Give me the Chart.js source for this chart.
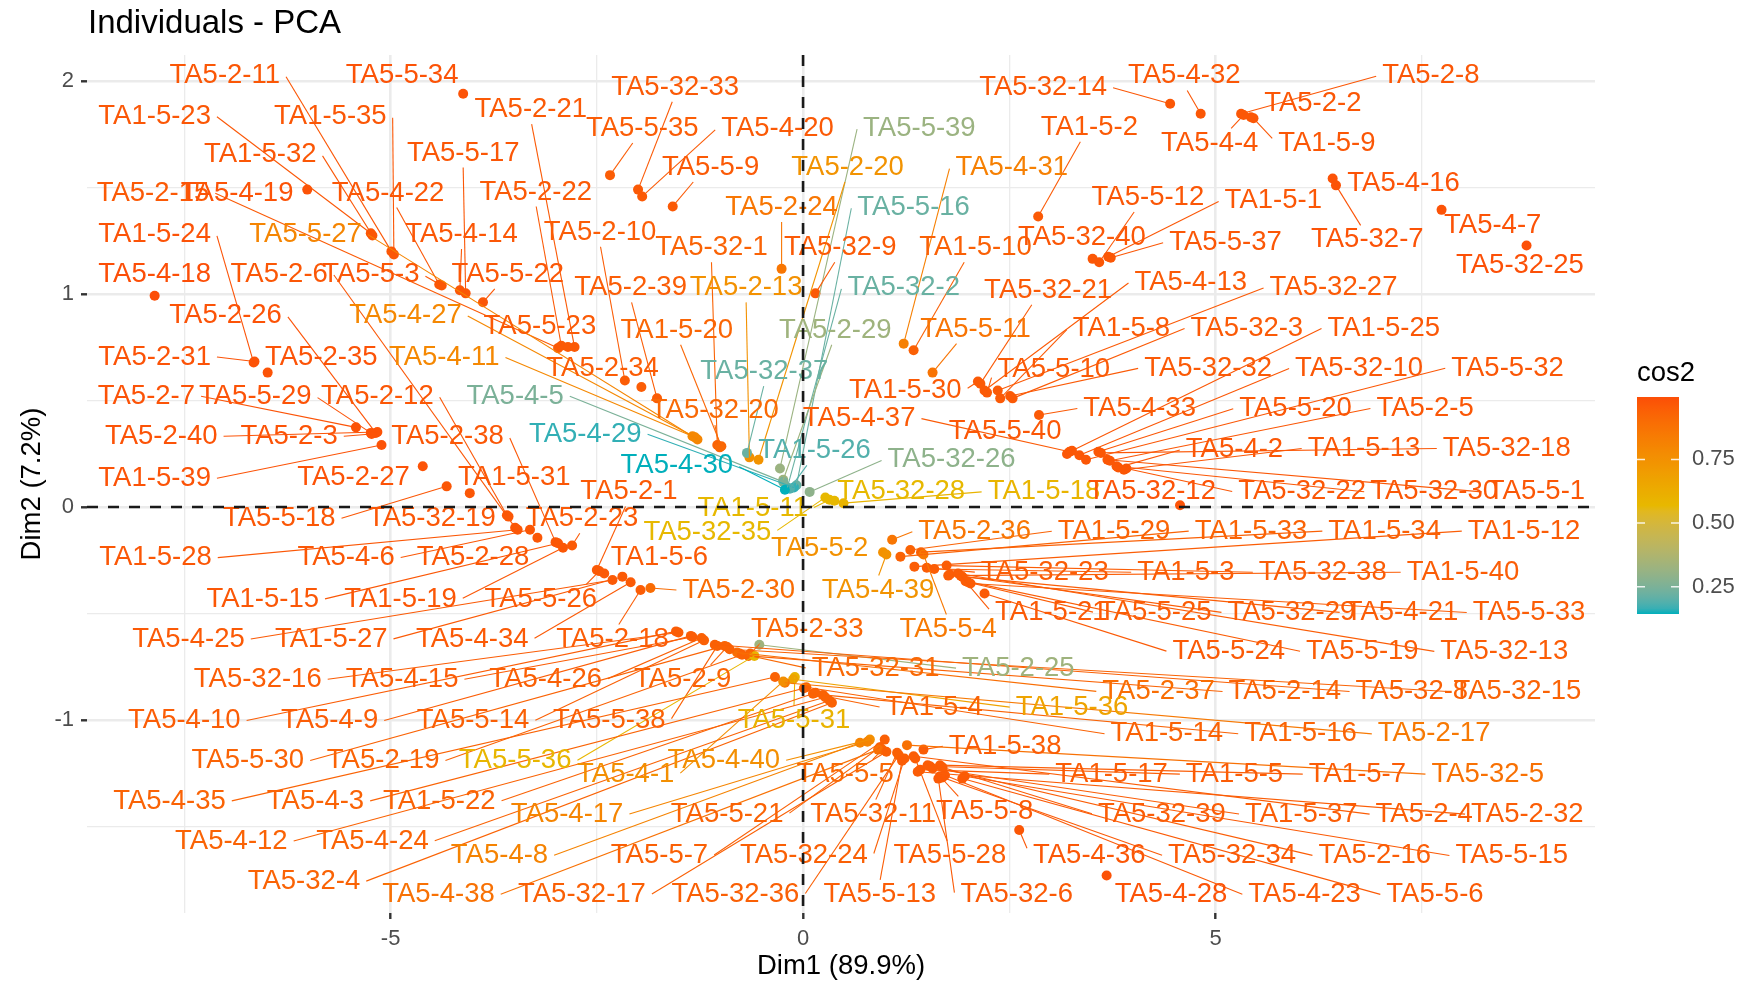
<!DOCTYPE html>
<html>
<head>
<meta charset="utf-8">
<script src="https://cdn.jsdelivr.net/npm/chart.js@4.4.1/dist/chart.umd.min.js"></script>
<style>
  html, body { margin: 0; padding: 0; background: #ffffff; }
  #wrap { width: 1749px; height: 985px; position: relative; }
</style>
</head>
<body>
<div id="wrap"><canvas id="c" width="1749" height="985"></canvas></div>
<script>
// ---------------- DATA ----------------
const names = [
'TA5-2-11','TA5-5-34','TA1-5-23','TA1-5-35','TA5-2-21','TA5-32-33','TA5-5-35','TA5-4-20','TA5-5-39','TA1-5-32',
'TA5-5-17','TA5-5-9','TA5-2-20','TA5-4-31','TA5-2-15','TA5-4-19','TA5-4-22','TA5-2-22','TA5-2-24','TA5-5-16',
'TA1-5-24','TA5-5-27','TA5-4-14','TA5-2-10','TA5-32-1','TA5-32-9','TA1-5-10','TA5-4-18','TA5-2-6','TA5-5-3',
'TA5-5-22','TA5-2-39','TA5-2-13','TA5-32-2','TA5-2-26','TA5-4-27','TA5-5-23','TA1-5-20','TA5-2-29','TA5-5-11',
'TA5-2-31','TA5-2-35','TA5-4-11','TA5-2-34','TA5-32-37','TA5-2-7','TA5-5-29','TA5-2-12','TA5-4-5','TA5-32-20',
'TA5-4-37','TA1-5-30','TA5-2-40','TA5-2-3','TA5-2-38','TA5-4-29','TA1-5-26','TA5-4-30','TA5-32-26','TA1-5-39',
'TA5-2-27','TA1-5-31','TA5-2-1','TA5-32-28','TA1-5-11','TA1-5-18','TA5-32-12','TA5-32-22','TA5-32-30','TA5-5-1',
'TA5-5-18','TA5-32-19','TA5-2-23','TA5-32-35','TA5-2-36','TA1-5-29','TA1-5-33','TA1-5-34','TA1-5-12','TA1-5-28',
'TA5-4-6','TA5-2-28','TA1-5-6','TA5-5-2','TA5-32-23','TA1-5-3','TA5-32-38','TA1-5-40','TA1-5-15','TA1-5-19',
'TA5-5-26','TA5-2-30','TA5-4-39','TA1-5-21','TA5-5-25','TA5-32-29','TA5-4-21','TA5-5-33','TA5-4-25','TA1-5-27',
'TA5-4-34','TA5-2-18','TA5-2-33','TA5-5-4','TA5-5-24','TA5-5-19','TA5-32-13','TA5-32-16','TA5-4-15','TA5-4-26',
'TA5-2-9','TA5-32-31','TA5-2-25','TA5-2-37','TA5-2-14','TA5-32-8','TA5-32-15','TA5-4-10','TA5-4-9','TA5-5-14',
'TA5-5-38','TA5-5-31','TA1-5-4','TA1-5-36','TA1-5-14','TA1-5-16','TA5-2-17','TA5-5-30','TA5-2-19','TA5-5-36',
'TA5-4-1','TA5-4-40','TA1-5-38','TA5-5-5','TA1-5-17','TA1-5-5','TA1-5-7','TA5-32-5','TA5-4-35','TA5-4-3',
'TA1-5-22','TA5-4-17','TA5-5-21','TA5-32-11','TA5-5-8','TA5-32-39','TA1-5-37','TA5-2-4','TA5-2-32','TA5-4-12',
'TA5-4-24','TA5-4-8','TA5-5-7','TA5-32-24','TA5-5-28','TA5-4-36','TA5-32-34','TA5-2-16','TA5-5-15','TA5-32-4',
'TA5-4-38','TA5-32-17','TA5-32-36','TA5-5-13','TA5-32-6','TA5-4-28','TA5-4-23','TA5-5-6','TA5-32-14','TA5-4-32',
'TA5-2-8','TA5-2-2','TA1-5-2','TA5-4-4','TA1-5-9','TA5-4-16','TA5-5-12','TA1-5-1','TA5-32-40','TA5-5-37',
'TA5-32-7','TA5-4-7','TA5-32-25','TA5-32-21','TA5-4-13','TA5-32-27','TA1-5-8','TA5-32-3','TA1-5-25','TA5-5-10',
'TA5-32-32','TA5-32-10','TA5-5-32','TA5-4-33','TA5-5-20','TA5-2-5','TA5-5-40','TA5-4-2','TA1-5-13','TA5-32-18'
];

// individual coordinates (Dim1, Dim2)
const dim1 = [
-4.99,-4.12,-5.24,-4.96,-2.77,-2.00,-2.34,-1.95,-0.28,-5.22,
-4.09,-1.58,-0.54,1.22,-2.97,-6.01,-4.41,-2.93,-0.26,-0.08,
-6.66,-1.28,-4.16,-2.16,-1.04,0.15,1.34,-7.86,-3.49,-4.38,
-3.88,-1.77,-0.65,-0.19,-5.18,-1.31,-2.85,-0.99,-0.24,1.57,
-6.65,-6.49,-1.34,-1.96,-0.68,-5.42,-5.24,-3.59,-0.24,-1.01,
3.23,2.12,-5.16,-5.23,-3.00,-0.11,-0.16,-0.22,0.08,-5.11,
-4.61,-4.04,-2.50,0.38,0.32,0.49,4.57,3.92,3.80,3.69,
-4.32,-3.57,-2.80,0.27,1.08,1.30,1.18,1.43,1.35,-3.46,
-3.31,-3.22,-2.41,0.97,1.50,1.59,1.74,1.76,-2.97,-2.91,
-2.47,-1.85,1.01,1.91,2.00,1.78,1.93,2.03,-2.31,-2.19,
-2.09,-1.97,-0.64,1.46,2.20,1.97,1.88,-1.51,-1.34,-1.23,
-0.92,-0.77,-0.53,-0.80,-0.66,-1.07,-0.89,-1.54,-1.36,-1.20,
-1.04,-0.10,0.12,-0.12,0.04,0.24,-0.22,-0.95,-0.74,-0.59,
-0.24,0.81,1.46,0.96,1.42,1.54,1.66,1.26,-0.34,0.01,
0.15,0.78,0.93,1.14,1.66,1.69,1.57,1.34,1.39,0.27,
0.32,0.69,0.99,1.23,1.36,2.62,1.69,1.51,1.96,0.35,
0.91,1.01,1.16,1.20,1.64,3.68,1.72,1.93,4.45,4.82,
5.31,5.43,2.85,5.34,5.46,6.42,3.59,3.70,3.51,3.73,
6.46,7.74,8.77,2.15,2.20,2.36,2.39,2.54,3.26,2.23,
2.51,3.35,3.43,2.86,3.58,3.72,3.20,3.82,3.89,3.61
];
const dim2 = [
1.200,1.940,1.285,1.186,0.751,1.490,1.558,1.458,0.181,1.275,
1.003,1.411,0.222,0.767,0.746,1.490,1.045,0.757,1.118,0.102,
0.678,0.317,1.018,0.594,0.291,1.003,0.736,0.992,-0.097,1.040,
0.961,0.510,0.233,0.092,0.348,0.327,0.751,0.285,0.128,0.631,
0.683,0.631,0.332,0.563,0.254,0.374,0.348,-0.039,0.118,0.280,
0.259,0.589,0.352,0.343,-0.165,0.092,0.086,0.081,0.071,0.291,
0.191,0.065,-0.296,0.029,0.034,0.018,0.008,0.181,0.191,0.222,
0.097,-0.045,-0.181,0.045,-0.154,-0.202,-0.233,-0.212,-0.280,-0.107,
-0.107,-0.144,-0.312,-0.212,-0.285,-0.291,-0.275,-0.322,-0.170,-0.191,
-0.301,-0.380,-0.223,-0.322,-0.353,-0.317,-0.327,-0.359,-0.343,-0.327,
-0.353,-0.390,-0.688,-0.223,-0.406,-0.348,-0.312,-0.589,-0.610,-0.615,
-0.657,-0.688,-0.647,-0.683,-0.699,-0.647,-0.668,-0.584,-0.605,-0.626,
-0.652,-0.798,-0.877,-0.809,-0.846,-0.882,-0.825,-0.652,-0.694,-0.699,
-0.819,-1.092,-1.139,-1.139,-1.233,-1.217,-1.212,-1.118,-0.798,-0.851,
-0.872,-1.102,-1.128,-1.154,-1.264,-1.222,-1.228,-1.170,-1.243,-0.893,
-0.908,-1.107,-1.092,-1.181,-1.181,-1.516,-1.270,-1.212,-1.264,-0.919,
-1.139,-1.149,-1.165,-1.191,-1.275,-1.730,-1.259,-1.275,1.893,1.846,
1.846,1.830,1.364,1.840,1.825,1.542,1.149,1.175,1.165,1.170,
1.510,1.395,1.228,0.579,0.547,0.547,0.510,0.510,0.264,0.537,
0.521,0.243,0.222,0.432,0.259,0.217,0.249,0.186,0.175,0.254
];

// repelled label anchor (in Dim1 / Dim2 units)
const labelDim1 = [
-7.01,-4.86,-7.86,-5.73,-3.30,-1.55,-1.95,-0.31,1.41,-6.58,
-4.12,-1.12,0.54,2.53,-7.88,-6.86,-5.03,-3.24,-0.26,1.34,
-7.86,-6.03,-4.14,-2.46,-1.11,0.45,2.09,-7.86,-6.35,-5.24,
-3.58,-2.09,-0.69,1.22,-7.00,-4.82,-3.19,-1.53,0.39,2.09,
-7.86,-5.84,-4.35,-2.43,-0.47,-7.96,-6.64,-5.16,-3.49,-1.07,
0.68,1.24,-7.78,-6.23,-4.31,-2.64,0.14,-1.53,1.80,-7.86,
-5.45,-3.50,-2.11,1.19,-0.61,2.92,4.23,6.05,7.65,8.89,
-6.35,-4.50,-2.68,-1.16,2.08,3.77,5.43,7.05,8.74,-7.85,
-5.54,-4.00,-1.74,0.20,2.93,4.64,6.30,8.00,-6.55,-4.88,
-3.18,-0.78,0.91,3.01,4.27,5.92,7.26,8.80,-7.45,-5.72,
-4.01,-2.31,0.05,1.76,5.16,6.78,8.50,-6.61,-4.86,-3.12,
-1.46,0.88,2.61,4.31,5.84,7.38,8.66,-7.50,-5.74,-4.00,
-2.35,-0.11,1.59,3.26,4.41,6.03,7.65,-6.73,-5.09,-3.49,
-2.15,-0.96,2.45,0.51,3.74,5.23,6.72,8.30,-7.68,-5.91,
-4.41,-2.86,-0.92,0.85,2.20,4.35,6.04,7.53,8.78,-6.93,
-5.22,-3.68,-1.74,0.01,1.78,3.47,5.20,6.93,8.59,-6.05,
-4.42,-2.68,-0.82,0.93,2.59,4.46,6.08,7.66,2.91,4.62,
7.61,6.18,3.47,4.93,6.35,7.28,4.18,5.70,3.38,5.12,
6.84,8.36,8.69,2.97,4.70,6.43,3.86,5.38,7.04,3.04,
4.91,6.74,8.54,4.08,5.97,7.54,2.45,5.23,6.80,8.53
];
const labelDim2 = [
2.024,2.024,1.835,1.835,1.866,1.971,1.777,1.777,1.777,1.657,
1.662,1.594,1.594,1.594,1.474,1.474,1.474,1.479,1.406,1.406,
1.280,1.280,1.280,1.290,1.217,1.217,1.217,1.092,1.092,1.092,
1.092,1.029,1.029,1.029,0.898,0.898,0.846,0.830,0.830,0.835,
0.704,0.704,0.704,0.652,0.636,0.521,0.521,0.521,0.521,0.453,
0.416,0.547,0.332,0.332,0.332,0.343,0.264,0.196,0.222,0.134,
0.139,0.139,0.071,0.071,-0.008,0.071,0.071,0.071,0.071,0.071,
-0.055,-0.055,-0.055,-0.118,-0.113,-0.113,-0.113,-0.113,-0.113,-0.238,
-0.238,-0.238,-0.238,-0.196,-0.306,-0.306,-0.306,-0.306,-0.432,-0.432,
-0.432,-0.390,-0.390,-0.495,-0.495,-0.495,-0.495,-0.495,-0.620,-0.620,
-0.620,-0.620,-0.573,-0.573,-0.678,-0.678,-0.678,-0.809,-0.809,-0.809,
-0.809,-0.757,-0.757,-0.866,-0.866,-0.866,-0.866,-1.003,-1.003,-1.003,
-1.003,-1.003,-0.940,-0.940,-1.065,-1.065,-1.065,-1.191,-1.191,-1.191,
-1.254,-1.191,-1.123,-1.254,-1.254,-1.254,-1.254,-1.254,-1.380,-1.380,
-1.380,-1.442,-1.442,-1.442,-1.427,-1.442,-1.442,-1.442,-1.442,-1.568,
-1.568,-1.636,-1.636,-1.636,-1.636,-1.636,-1.636,-1.636,-1.636,-1.757,
-1.819,-1.819,-1.819,-1.819,-1.819,-1.819,-1.819,-1.819,1.971,2.024,
2.024,1.893,1.783,1.709,1.709,1.521,1.453,1.437,1.264,1.243,
1.254,1.322,1.134,1.018,1.055,1.029,0.840,0.840,0.840,0.647,
0.652,0.652,0.652,0.463,0.463,0.463,0.353,0.270,0.275,0.275
];

// quality of representation
const cos2 = [
.97,.98,.97,.97,.96,.96,.95,.96,.32,.97,
.97,.96,.74,.82,.96,.98,.97,.96,.86,.22,
.98,.80,.97,.95,.93,.96,.94,.995,.97,.97,
.97,.95,.75,.22,.98,.79,.96,.92,.33,.87,
.98,.98,.79,.95,.22,.98,.98,.97,.25,.91,
.96,.96,.98,.98,.97,.16,.19,.143,.29,.98,
.98,.97,.96,.57,.57,.59,.98,.97,.97,.97,
.97,.97,.96,.57,.86,.93,.93,.94,.95,.97,
.97,.97,.96,.75,.95,.95,.95,.95,.97,.97,
.96,.90,.74,.96,.95,.95,.95,.95,.96,.96,
.96,.95,.92,.85,.96,.95,.95,.95,.95,.94,
.93,.91,.33,.89,.93,.94,.93,.95,.95,.94,
.94,.60,.93,.67,.93,.93,.85,.93,.93,.58,
.76,.76,.95,.91,.95,.95,.95,.88,.93,.93,
.93,.80,.93,.94,.96,.95,.95,.95,.95,.93,
.93,.81,.94,.94,.95,.97,.96,.95,.96,.93,
.88,.94,.94,.95,.96,.98,.96,.96,.97,.97,
.97,.97,.96,.97,.97,.98,.97,.97,.97,.97,
.98,.98,.99,.96,.96,.96,.96,.96,.97,.96,
.96,.97,.97,.96,.97,.97,.97,.97,.97,.97
];

const xTicks = [-5, 0, 5];
const yTicks = [-1, 0, 1, 2];
const xGridValues = [-7.5, -5, -2.5, 0, 2.5, 5, 7.5];
const yGridValues = [-1.5, -1, -0.5, 0, 0.5, 1, 1.5, 2];
const legendTicks = [0.25, 0.50, 0.75];
const gradientColors = ['#00AFBB', '#E7B800', '#FC4E07'];
const X_MIN = -8.68, X_MAX = 9.60, Y_MIN = -1.906, Y_MAX = 2.122;

// ---------------- COLOUR (Lab interpolation like ggplot) ----------------
const FONT = "'Liberation Sans', Arial, Helvetica, sans-serif";
function hexRgb(h){ return [parseInt(h.slice(1,3),16), parseInt(h.slice(3,5),16), parseInt(h.slice(5,7),16)]; }
function s2l(c){ c/=255; return c<=0.04045 ? c/12.92 : Math.pow((c+0.055)/1.055,2.4); }
function l2s(c){ const v = c<=0.0031308 ? 12.92*c : 1.055*Math.pow(c,1/2.4)-0.055; return Math.round(Math.max(0,Math.min(1,v))*255); }
function rgbLab(rgb){
  const R=s2l(rgb[0]), G=s2l(rgb[1]), B=s2l(rgb[2]);
  const X=(0.4124*R+0.3576*G+0.1805*B)/0.95047, Y=(0.2126*R+0.7152*G+0.0722*B), Z=(0.0193*R+0.1192*G+0.9505*B)/1.08883;
  const f=t=>t>0.008856?Math.cbrt(t):7.787*t+16/116;
  const fx=f(X), fy=f(Y), fz=f(Z);
  return [116*fy-16, 500*(fx-fy), 200*(fy-fz)];
}
function labRgb(lab){
  const fy=(lab[0]+16)/116, fx=fy+lab[1]/500, fz=fy-lab[2]/200;
  const fi=t=>{const t3=t*t*t; return t3>0.008856?t3:(t-16/116)/7.787;};
  const X=fi(fx)*0.95047, Y=fi(fy), Z=fi(fz)*1.08883;
  return [l2s(3.2406*X-1.5372*Y-0.4986*Z), l2s(-0.9689*X+1.8758*Y+0.0415*Z), l2s(0.0557*X-0.2040*Y+1.0570*Z)];
}
const labStops = gradientColors.map(h=>rgbLab(hexRgb(h)));
const C_MIN = Math.min(...cos2), C_MAX = Math.max(...cos2);
function colorFor(v){
  let t=(v-C_MIN)/(C_MAX-C_MIN); t=Math.max(0,Math.min(1,t));
  const n=labStops.length-1; let k=Math.min(n-1,Math.floor(t*n)); const u=t*n-k;
  const a=labStops[k], b=labStops[k+1];
  const c=labRgb([a[0]+(b[0]-a[0])*u, a[1]+(b[1]-a[1])*u, a[2]+(b[2]-a[2])*u]);
  return `rgb(${c[0]},${c[1]},${c[2]})`;
}
const colors = cos2.map(colorFor);

// ---------------- LABEL CONNECTION (ggrepel-like) ----------------
function connect(px, py, b){
  let ox, oy, left=false, right=false, top=false, bottom=false;
  if (px>=b[0] && px<=b[2]) ox=px; else if (px>b[2]) { ox=b[2]; right=true; } else { ox=b[0]; left=true; }
  if (py>=b[1] && py<=b[3]) oy=py; else if (py>b[3]) { oy=b[3]; bottom=true; } else { oy=b[1]; top=true; }
  const mx=(b[0]+b[2])/2, my=(b[1]+b[3])/2;
  const d=Math.hypot(px-ox, py-oy);
  if ((top||bottom) && !(left||right)) {
    const altd=Math.hypot(px-mx, py-oy); if (altd>0) ox += (mx-ox)*d/altd;
  } else if ((left||right) && !(top||bottom)) {
    const altd=Math.hypot(px-ox, py-my); if (altd>0) oy += (my-oy)*d/altd;
  } else if ((left||right) && (top||bottom)) {
    const a1=Math.hypot(px-mx, py-oy), a2=Math.hypot(px-ox, py-my);
    if (a1<a2) ox += (mx-ox)*d/a1; else oy += (my-oy)*d/a2;
  }
  return [ox, oy, d];
}

const LABEL_SIZE = 27.5;

const overlay = {
  id: 'overlay',
  afterDatasetsDraw(chart){
    const {ctx, scales:{x, y}, chartArea:a} = chart;
    ctx.save();
    ctx.font = `${LABEL_SIZE}px ${FONT}`;
    const boxes = names.map((n,i)=>{
      const cx=x.getPixelForValue(labelDim1[i]), cy=y.getPixelForValue(labelDim2[i]);
      const w=ctx.measureText(n).width;
      return [cx-w/2-6, cy-LABEL_SIZE*0.42-3, cx+w/2+6, cy+LABEL_SIZE*0.42+3, cx, cy];
    });
    ctx.lineWidth = 1.1;
    names.forEach((n,i)=>{
      const px=x.getPixelForValue(dim1[i]), py=y.getPixelForValue(dim2[i]);
      const r = connect(px, py, boxes[i]);
      if (r[2] < 1 || Math.hypot(r[0]-px, r[1]-py) < 12) return;
      ctx.strokeStyle = colors[i];
      ctx.beginPath(); ctx.moveTo(px, py); ctx.lineTo(r[0], r[1]); ctx.stroke();
    });
    ctx.textAlign = 'center'; ctx.textBaseline = 'middle';
    names.forEach((n,i)=>{ ctx.fillStyle = colors[i]; ctx.fillText(n, boxes[i][4], boxes[i][5]); });
    // dashed reference axes
    const x0 = x.getPixelForValue(0), y0 = y.getPixelForValue(0);
    ctx.strokeStyle = '#1A1A1A'; ctx.lineWidth = 2.6; ctx.setLineDash([11, 10]);
    ctx.beginPath();
    ctx.moveTo(x0, a.top); ctx.lineTo(x0, a.bottom);
    ctx.moveTo(a.left, y0); ctx.lineTo(a.right, y0);
    ctx.stroke();
    ctx.restore();
  },
  afterDraw(chart){
    const {ctx, chartArea:a} = chart;
    ctx.save();
    ctx.fillStyle = '#000000';
    ctx.font = `33px ${FONT}`;
    ctx.textAlign = 'left'; ctx.textBaseline = 'alphabetic';
    ctx.fillText('Individuals - PCA', 88, 33);
    ctx.font = `27.5px ${FONT}`;
    ctx.textAlign = 'center'; ctx.textBaseline = 'middle';
    ctx.fillText('Dim1 (89.9%)', (a.left + a.right)/2, 966);
    ctx.save();
    ctx.translate(32, (a.top + a.bottom)/2);
    ctx.rotate(-Math.PI/2);
    ctx.fillText('Dim2 (7.2%)', 0, 0);
    ctx.restore();
    // legend
    const bx = 1637, bw = 42, bTop = 397, bBot = 614;
    ctx.textAlign = 'left'; ctx.textBaseline = 'alphabetic';
    ctx.fillText('cos2', bx, 381);
    const g = ctx.createLinearGradient(0, bBot, 0, bTop);
    for (let s = 0; s <= 40; s++) { const v = C_MIN + (C_MAX - C_MIN) * s / 40; g.addColorStop(s/40, colorFor(v)); }
    ctx.fillStyle = g;
    ctx.fillRect(bx, bTop, bw, bBot - bTop);
    ctx.font = `22px ${FONT}`;
    ctx.textBaseline = 'middle';
    legendTicks.forEach(v => {
      const ty = bBot - (v - C_MIN) / (C_MAX - C_MIN) * (bBot - bTop);
      ctx.strokeStyle = 'rgba(255,255,255,0.85)'; ctx.lineWidth = 1.5;
      ctx.beginPath();
      ctx.moveTo(bx, ty); ctx.lineTo(bx + 8, ty);
      ctx.moveTo(bx + bw - 8, ty); ctx.lineTo(bx + bw, ty);
      ctx.stroke();
      ctx.fillStyle = '#4D4D4D';
      ctx.fillText(v.toFixed(2), 1692, ty);
    });
    ctx.restore();
  }
};

function gridCfg(majors){
  return {
    drawTicks: true,
    tickLength: 6,
    color: '#EBEBEB',
    lineWidth: c => majors.includes(c.tick.value) ? 2.6 : 1.3,
    tickColor: c => majors.includes(c.tick.value) ? '#333333' : 'rgba(0,0,0,0)',
    tickWidth: 2.4
  };
}

new Chart(document.getElementById('c'), {
  type: 'scatter',
  data: {
    datasets: [{
      data: dim1.map((v,i)=>({x: v, y: dim2[i]})),
      pointBackgroundColor: colors,
      pointBorderWidth: 0,
      pointRadius: 5,
      pointHoverRadius: 5
    }]
  },
  options: {
    responsive: false,
    animation: false,
    devicePixelRatio: 1,
    events: [],
    layout: { padding: { left: 0, top: 55, right: 154, bottom: 0 } },
    plugins: { legend: { display: false }, tooltip: { enabled: false }, title: { display: false } },
    scales: {
      x: {
        type: 'linear', min: X_MIN, max: X_MAX,
        afterBuildTicks: s => { s.ticks = xGridValues.map(v => ({value: v})); },
        afterFit: s => { s.height = 72; },
        ticks: { autoSkip: false, maxRotation: 0, padding: 7, color: '#4D4D4D', font: { family: FONT, size: 22 },
                 callback: v => xTicks.includes(v) ? String(v) : '' },
        grid: gridCfg(xTicks),
        border: { display: false }
      },
      y: {
        type: 'linear', min: Y_MIN, max: Y_MAX,
        afterBuildTicks: s => { s.ticks = yGridValues.map(v => ({value: v})); },
        afterFit: s => { s.width = 87; },
        ticks: { autoSkip: false, padding: 7, color: '#4D4D4D', font: { family: FONT, size: 22 },
                 callback: v => yTicks.includes(v) ? String(v) : '' },
        grid: gridCfg(yTicks),
        border: { display: false }
      }
    }
  },
  plugins: [overlay]
});
</script>
</body>
</html>
